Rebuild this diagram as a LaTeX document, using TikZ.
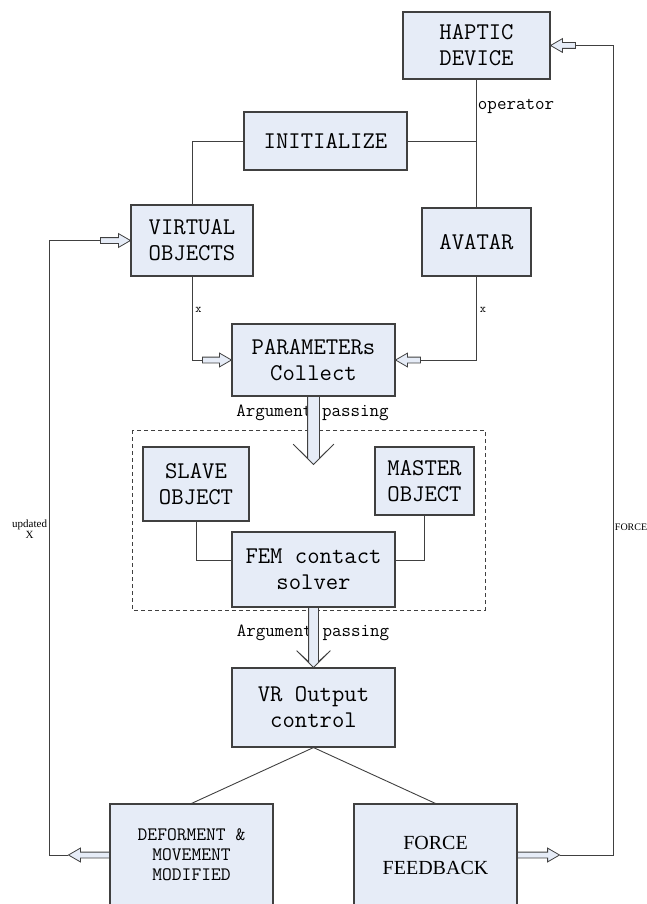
\documentclass[tikz,border=0pt]{standalone}
\usepackage{fontspec}
\setmainfont{Liberation Serif}
\usetikzlibrary{shapes.arrows}
\definecolor{hBlue}{RGB}{230,236,247}
\definecolor{hGray}{RGB}{64,64,64}

\begin{document}
\begin{tikzpicture}[x=1pt, y=-1pt,
    box/.style={draw=hGray, line width=1.1pt, fill=hBlue, align=center, inner sep=0pt,
        font=\ttfamily\fontsize{24}{26}\selectfont},
    link/.style={draw=hGray, line width=0.9pt},
    hollow/.style={single arrow, draw=hGray, fill=hBlue, line width=0.8pt, inner sep=2.5pt,
        minimum width=0pt, single arrow head extend=4pt, single arrow tip angle=60, outer sep=0pt},
    bigArrow/.style={single arrow, draw=hGray, fill=hBlue, line width=0.8pt, minimum width=0pt,
        single arrow tip angle=90, outer sep=0pt, shape border rotate=270, anchor=tail},
    lbl/.style={font=\ttfamily\fontsize{18.5}{20}\selectfont, inner sep=1pt},
    xLbl/.style={font=\ttfamily\fontsize{12}{13}\selectfont, inner sep=3pt},
    sideLbl/.style={font=\fontsize{10}{11}\selectfont, inner sep=1.5pt, align=center}]

    \useasboundingbox (0,0) rectangle (646,904);
    \clip (0,0) rectangle (646,904);

    % Dashed frame round the contact solver
    \draw[hGray, line width=0.9pt, dash pattern=on 4pt off 3pt] (132,430) rectangle (485,610);

    % Draw the boxes
    \node[box, minimum width=147pt, minimum height=67pt] (haptic) at (476.5,45.5) {HAPTIC\\DEVICE};
    \node[box, minimum width=163pt, minimum height=58pt] (init) at (325.5,141) {INITIALIZE};
    \node[box, minimum width=122pt, minimum height=71pt] (virt) at (192,240.5) {VIRTUAL\\OBJECTS};
    \node[box, minimum width=109pt, minimum height=68pt] (avatar) at (476.5,242) {AVATAR};
    \node[box, minimum width=163pt, minimum height=72pt] (param) at (313.5,360) {PARAMETERs\\Collect};
    \node[box, minimum width=106pt, minimum height=74pt] (slave) at (196,484) {SLAVE\\OBJECT};
    \node[box, minimum width=99pt, minimum height=68pt] (master) at (424.5,481) {MASTER\\OBJECT};
    \node[box, minimum width=163pt, minimum height=75pt] (fem) at (313.5,569.5) {FEM contact\\solver};
    \node[box, minimum width=163pt, minimum height=79pt] (vr) at (313.5,707.5) {VR Output\\control};
    \node[box, minimum width=163pt, minimum height=102pt,
        font=\ttfamily\fontsize{19}{20}\selectfont] (deform) at (191.5,855) {DEFORMENT \&\\MOVEMENT\\MODIFIED};
    \node[box, minimum width=163pt, minimum height=102pt,
        font=\rmfamily\fontsize{20}{25}\selectfont] (force) at (435.5,855) {FORCE\\FEEDBACK};

    % Operator and initialize links
    \draw[link] (haptic.south) -- node[lbl, pos=0.21, anchor=west] (lOper) {operator} (avatar.north);
    \draw[link] (init.east) -- (init.east -| haptic.south);
    \draw[link] (init.west) -| (virt.north);

    % x into the parameters box
    \node[hollow, minimum height=29pt, anchor=tip] (aParL) at (param.west) {};
    \node[hollow, minimum height=25pt, anchor=tip, shape border rotate=180] (aParR) at (param.east) {};
    \draw[link] (virt.south) |- node[xLbl, pos=0.2, right] (lxL) {x} (aParL.tail);
    \draw[link] (avatar.south) |- node[xLbl, pos=0.2, right] (lxR) {x} (aParR.tail);

    % Argument passing
    \node[lbl] (argA) at (312.5,413) {Argument passing};
    \node[bigArrow, inner sep=5.5pt, single arrow head extend=14.5pt, single arrow head indent=14pt,
        minimum height=68pt] (bigA) at (param.south) {};
    \node[lbl] (argB) at (313,633) {Argument passing};
    \node[bigArrow, inner sep=4.5pt, single arrow head extend=12pt, single arrow head indent=11pt,
        minimum height=60pt] (bigB) at (fem.south) {};

    % Slave and master into the solver
    \draw[link] (slave.south) |- ([yshift=9.5pt]fem.west);
    \draw[link] (master.south) |- ([yshift=9.5pt]fem.east);

    % Output split
    \draw[link] (vr.south) -- (deform.north);
    \draw[link] (vr.south) -- (force.north);

    % Left loop: updated X
    \node[hollow, minimum height=30pt, anchor=tip] (aVirt) at (virt.west) {};
    \node[hollow, minimum height=41pt, anchor=tail, shape border rotate=180] (aDef) at (deform.west) {};
    \coordinate (loopL) at (49,0);
    \draw[link] (aDef.tip) -- (aDef.tip -| loopL)
        -- node[sideLbl, font=\fontsize{11}{11.5}\selectfont, pos=0.53, left] (lUpd) {updated\\X}
        (aVirt.tail -| loopL) -- (aVirt.tail);

    % Right loop: force
    \node[hollow, minimum height=42pt, anchor=tail] (aForce) at (force.east) {};
    \node[hollow, minimum height=25pt, anchor=tip, shape border rotate=180] (aHap) at (haptic.east) {};
    \coordinate (loopR) at (613,0);
    \draw[link] (aForce.tip) -- (aForce.tip -| loopR)
        -- node[sideLbl, pos=0.405, right] (lForce) {FORCE}
        (aHap.tail -| loopR) -- (aHap.tail);

\end{tikzpicture}
\end{document}
